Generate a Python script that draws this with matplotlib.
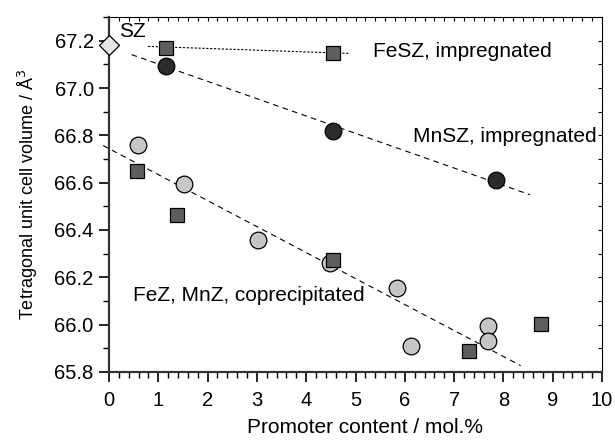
import numpy as np
import matplotlib.pyplot as plt
from matplotlib.ticker import MultipleLocator

plt.rcParams['font.family'] = ['Liberation Sans', 'DejaVu Sans']

# pure SZ
sz_x = [0.0]
sz_y = [67.18]

# impregnated samples
fesz_x = [1.16, 4.54]
fesz_y = [67.17, 67.15]
mnsz_x = [1.16, 4.54, 7.85]
mnsz_y = [67.094, 66.82, 66.61]

# coprecipitated samples
mnz_x = [0.59, 1.52, 3.02, 4.48, 5.84, 6.13, 7.68, 7.68]
mnz_y = [66.76, 66.595, 66.356, 66.26, 66.156, 65.91, 65.995, 65.93]
fez_x = [0.56, 1.37, 4.54, 7.30, 8.76]
fez_y = [66.65, 66.464, 66.274, 65.89, 66.003]

# trend lines (end points)
fesz_fit_x = [0.79, 4.89]
fesz_fit_y = [67.176, 67.146]
mnsz_fit_x = [0.46, 8.54]
mnsz_fit_y = [67.141, 66.549]
cop_fit_x = [-0.12, 8.35]
cop_fit_y = [66.757, 65.827]

fig = plt.figure(figsize=(6.15, 4.42), dpi=100)
ax = fig.add_axes([0.1772, 0.1584, 0.8017, 0.8031])

ax.plot(fesz_fit_x, fesz_fit_y, color='black', ls=(0, (2, 1.5)), lw=0.8)
ax.plot(mnsz_fit_x, mnsz_fit_y, color='black', ls=(0, (5, 4)), lw=0.8)
ax.plot(cop_fit_x, cop_fit_y, color='black', ls=(0, (5, 4)), lw=0.8, clip_on=False)

ax.plot(sz_x, sz_y, 'D', ms=10, mfc='#e6e6e6', mec='black', mew=0.9, clip_on=False, zorder=5)
ax.plot(mnz_x, mnz_y, 'o', ms=12, mfc='#c6c6c6', mec='black', mew=0.9, zorder=4)
ax.plot(fez_x, fez_y, 's', ms=10, mfc='#5e5e5e', mec='black', mew=0.9, zorder=5)
ax.plot(fesz_x, fesz_y, 's', ms=10, mfc='#5e5e5e', mec='black', mew=0.9, zorder=5)
ax.plot(mnsz_x, mnsz_y, 'o', ms=12, mfc='#2b2b2b', mec='black', mew=0.9, zorder=5)

ax.text(0.2, 67.238, 'SZ', fontsize=15, va='center', ha='left')
ax.text(5.35, 67.153, 'FeSZ, impregnated', fontsize=15, va='center', ha='left')
ax.text(9.9, 66.794, 'MnSZ, impregnated', fontsize=15, va='center', ha='right')
ax.text(0.49, 66.122, 'FeZ, MnZ, coprecipitated', fontsize=15, va='center', ha='left')

ax.set_xlim(0, 10)
ax.set_ylim(65.8, 67.3)
ax.set_yticks(np.arange(65.8, 67.21, 0.2))
ax.set_yticklabels(['%.1f' % v for v in np.arange(65.8, 67.21, 0.2)])
ax.xaxis.set_major_locator(MultipleLocator(1))
ax.xaxis.set_minor_locator(MultipleLocator(0.2))
ax.yaxis.set_minor_locator(MultipleLocator(0.1))

ax.tick_params(which='both', direction='out', labelsize=14.5, top=False, right=False)
ax.tick_params(which='major', length=7, width=1.2)
ax.tick_params(which='minor', length=4, width=1.0)
ax.tick_params(axis='x', pad=7)
ax.tick_params(axis='y', pad=4)

# inward ticks on top and right
axt = ax.secondary_xaxis('top')
axt.xaxis.set_minor_locator(MultipleLocator(0.2))
axt.xaxis.set_major_locator(MultipleLocator(0.2))
axt.tick_params(which='both', direction='in', length=3, width=0.8, labeltop=False)
axr = ax.secondary_yaxis('right')
axr.yaxis.set_major_locator(MultipleLocator(0.1))
axr.tick_params(which='both', direction='in', length=3, width=0.8, labelright=False)
axt.spines['top'].set_linewidth(0.8)
axr.spines['right'].set_linewidth(0.8)
ax.spines['top'].set_visible(False)
ax.spines['right'].set_visible(False)

ax.spines['left'].set_linewidth(1.6)
ax.spines['bottom'].set_linewidth(1.6)
ax.spines['left'].set_color('#333333')
ax.spines['bottom'].set_color('#333333')

ax.set_xlabel('Promoter content / mol.%', fontsize=15)
ax.xaxis.set_label_coords(0.52, -0.13)
ax.set_ylabel('Tetragonal unit cell volume / Å$^3$', fontsize=13, labelpad=10)

fig.savefig('out.png', dpi=100)
